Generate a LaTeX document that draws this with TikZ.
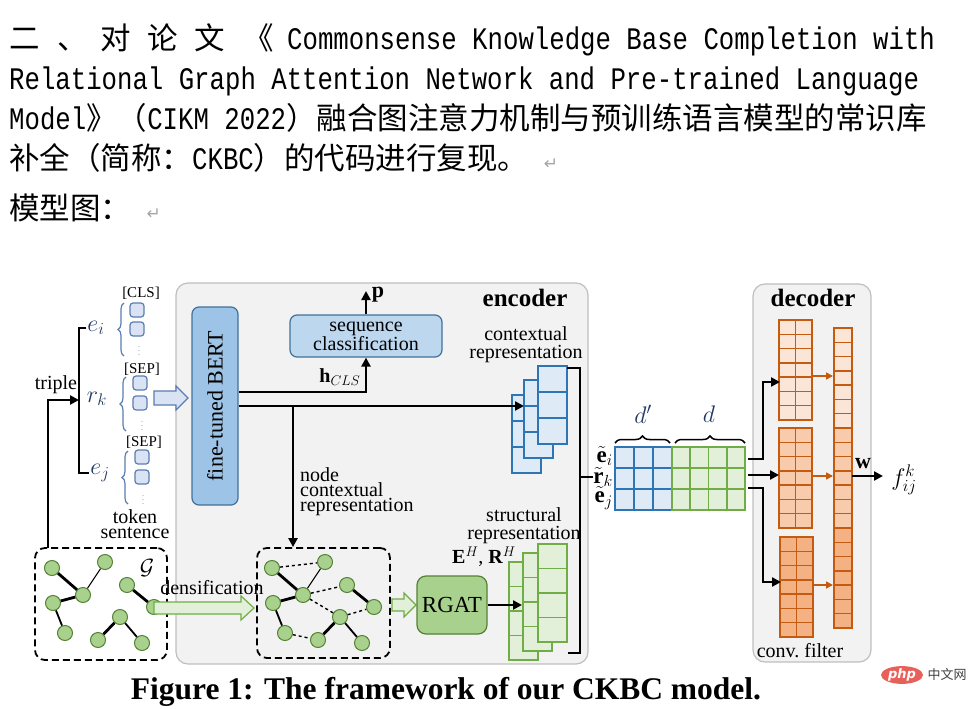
\RequirePackage{fix-cm}
\documentclass[tikz,border=0pt]{standalone}
\usepackage{fontspec}
\setmainfont{Liberation Serif}
\newfontfamily\cjk{Noto Sans CJK SC}
\newfontfamily\mono{Liberation Mono}
\newfontfamily\symb{DejaVu Sans}
\usetikzlibrary{positioning,arrows.meta,shapes.geometric,decorations.pathreplacing}

\definecolor{panelfill}{HTML}{F2F2F2}
\definecolor{panelline}{HTML}{BFBFBF}
\definecolor{bertfill}{HTML}{9DC3E6}
\definecolor{seqfill}{HTML}{BDD7EE}
\definecolor{boxline}{HTML}{41719C}
\definecolor{cellblue}{HTML}{2E75B6}
\definecolor{paleblue}{HTML}{DEEBF7}
\definecolor{tokfill}{HTML}{DAE3F3}
\definecolor{tokline}{HTML}{5B7DB1}
\definecolor{nodegreen}{HTML}{A9D18E}
\definecolor{darkgreen}{HTML}{548235}
\definecolor{cellgreen}{HTML}{70AD47}
\definecolor{palegreen}{HTML}{E2F0D9}
\definecolor{orangeline}{HTML}{C55A11}
\definecolor{orangeA}{HTML}{FBE5D6}
\definecolor{orangeB}{HTML}{F8CBAD}
\definecolor{orangeC}{HTML}{F4B183}
\definecolor{navy}{HTML}{1F3864}
\definecolor{retgrey}{HTML}{A6A6A6}
\definecolor{phpred}{HTML}{E8605A}

\newcommand{\zh}[1]{{\cjk\fontsize{30.5}{30.5}\selectfont #1}}
\newcommand{\lat}[1]{\scalebox{1}[1.22]{#1}}
\newcommand{\retmark}{{\color{retgrey}\symb\fontsize{17}{17}\selectfont ↵}}

\begin{document}
\begin{tikzpicture}[x=1pt,y=-1pt]

\useasboundingbox (0,0) rectangle (980,709);

%%% Heading text

\tikzstyle{heading}=[anchor=base west, inner sep=0, font=\mono\fontsize{25.7}{25.7}\selectfont]

\node (H1) [heading] at (9,49) {\zh{二}};
\node (H2) [heading] at (57,49) {\zh{、}};
\node (H3) [heading] at (100,49) {\zh{对}};
\node (H4) [heading] at (147,49) {\zh{论}};
\node (H5) [heading] at (194,49) {\zh{文}};
\node (H6) [heading] at (243,49) {\zh{《}};
\node (H7) [heading] at (287,49) {\lat{Commonsense Knowledge Base Completion with}};
\node (L2) [heading] at (9,89) {\lat{Relational Graph Attention Network and Pre-trained Language}};
\node (L3) [heading] at (9,129) {\lat{Model}\zh{》（}\lat{CIKM 2022}\zh{）融合图注意力机制与预训练语言模型的常识库}};
\node (L4) [heading] at (9,169) {\zh{补全（简称：}\lat{CKBC}\zh{）的代码进行复现。} \retmark};
\node (L5) [heading] at (9,219) {\zh{模型图：} \retmark};

%%% Styles

\tikzstyle{panel}=[draw=panelline, fill=panelfill, rounded corners=12, line width=1.2]
\tikzstyle{lbl}=[inner sep=1, font=\fontsize{20}{18}\selectfont, align=center]
\tikzstyle{mathlbl}=[inner sep=1, font=\fontsize{24}{24}\selectfont]
\tikzstyle{token}=[draw=tokline, fill=tokfill, rounded corners=3, minimum size=14, inner sep=0, line width=1.2]
\tikzstyle{tokbrace}=[draw=tokline, line width=1.2, decorate, decoration={brace, amplitude=6}]
\tikzstyle{dots}=[text=tokline, inner sep=0, font=\fontsize{8}{8}\selectfont]
\tikzstyle{flow}=[line width=2.6, -{Triangle[length=9pt,width=9pt]}]
\tikzstyle{wire}=[line width=2.4]
\tikzstyle{gnode}=[circle, draw=darkgreen, fill=nodegreen, minimum size=15, inner sep=0, line width=1]
\tikzstyle{bold edge}=[line width=2.8]
\tikzstyle{mid edge}=[line width=1.8]
\tikzstyle{thin edge}=[line width=1]
\tikzstyle{dash edge}=[line width=1.4, dashed]
\tikzstyle{graphbox}=[draw, line width=1.8, rounded corners=10, dash pattern=on 7pt off 4pt]
\tikzstyle{hollow}=[line width=1.2, line join=miter]

%%% Panels

\node (enc) [panel, minimum width=412, minimum height=381] at (382,473.5) {};
\node (dec) [panel, minimum width=118, minimum height=378] at (812,473) {};
\node (encT) [font=\bfseries\fontsize{25}{25}\selectfont] at (525,298) {encoder};
\node (decT) [font=\bfseries\fontsize{25}{25}\selectfont] at (813,298) {decoder};

%%% Triple and token sentences

\node (ei) [mathlbl, text=navy] at (96,328) {$e_i$};
\node (rk) [mathlbl, text=navy] at (97,399) {$r_k$};
\node (ej) [mathlbl, text=navy] at (100,473) {$e_j$};

\node (cls) [lbl, font=\fontsize{15}{15}\selectfont] at (141,293) {[CLS]};
\node (sep1) [lbl, font=\fontsize{15}{15}\selectfont] at (142,369) {[SEP]};
\node (sep2) [lbl, font=\fontsize{15}{15}\selectfont] at (144,442) {[SEP]};

\node (t1) [token] at (137,310) {};
\node (t2) [token] at (137,329) {};
\node (t3) [token] at (140,383) {};
\node (t4) [token] at (140,403) {};
\node (t5) [token] at (142,457) {};
\node (t6) [token] at (142,477) {};

\node (v1) [dots] at (139,348) {$\vdots$};
\node (v2) [dots] at (142,423) {$\vdots$};
\node (v3) [dots] at (143,497) {$\vdots$};

\draw [tokbrace] (124,356) -- (124,303);
\draw [tokbrace] (126,431) -- (126,377);
\draw [tokbrace] (128,504) -- (128,451);

\node (tok) [lbl, font=\fontsize{20}{15}\selectfont] at (135,524) {token\\sentence};

\node (triple) [lbl] at (56,385) {triple};

\coordinate (trip) at (48,548);
\coordinate (fork) at (79,400);
\draw [flow] (trip) |- (fork);
\draw [wire] (ei.west) -| (fork) |- (ej.west);

% Into BERT

\coordinate (inArrow) at (154,398);
\draw [hollow, draw=tokline, fill=tokfill] (inArrow) ++(0,-7) -- ++(22,0) -- ++(0,-5) -- ++(12,12) -- ++(-12,12) -- ++(0,-5) -- ++(-22,0) -- cycle;

\node (bert) [draw=boxline, fill=bertfill, rounded corners=7, line width=1.2, minimum width=46, minimum height=198] at (215,406) {};
\node (bertT) [rotate=90, font=\fontsize{22}{22}\selectfont] at (bert.center) {fine-tuned BERT};

%%% Sequence classification

\node (seq) [draw=boxline, fill=seqfill, rounded corners=7, line width=1.2, minimum width=152, minimum height=42, lbl] at (366,336) {sequence\\classification};

\coordinate (pt) at (366,291);
\draw [flow] (seq.north) -- (seq.north |- pt);
\node (p) [mathlbl, font=\fontsize{22}{22}\selectfont] at (378,295) {$\mathbf{p}$};

\draw [flow] ([yshift=14]bert.east) -| (seq.south);
\node (hcls) [lbl] at (340,377) {$\mathbf{h}_{CLS}$};

%%% Contextual representation

\foreach \cx/\cy in {512/395, 524/380, 538/366}{
  \foreach \r in {0,1,2}
    \draw [draw=cellblue, fill=paleblue, line width=1.3] (\cx,\cy+\r*26) rectangle ++(29,26);
}
\node (ctxL) [lbl] at (526,345) {contextual\\representation};

\coordinate (ctxin) at (524,406);
\draw [flow] (bert.east) -- (ctxin);

\coordinate (br) at (293,406);
\node (nctx) [lbl, anchor=west, align=left, font=\fontsize{20}{15}\selectfont] at (299,492) {node\\contextual\\representation};

%%% Graphs

\node (gbox) [graphbox, minimum width=132, minimum height=112] at (101,604) {};
\node (gbox2) [graphbox, minimum width=133, minimum height=110] at (323.5,603) {};
\node (gsym) [mathlbl, font=\fontsize{22}{22}\selectfont] at (147,568) {$\mathcal{G}$};

\draw [flow] (br) -- (br |- gbox2.north);

\foreach \n/\px/\py in {a/52/568, b/105/562, c/83/595, d/53/603, e/65/633,
                        f/127/585, g/154/607, h/120/617, i/98/640, j/142/643}{
  \node (g\n) [gnode] at (\px,\py) {};
  \node (h\n) [gnode] at (\px+220,\py) {};
}

\draw [bold edge] (ga) -- (gc);
\draw [thin edge] (gb) -- (gc);
\draw [bold edge] (gc) -- (gd);
\draw [mid edge] (gd) -- (ge);
\draw [bold edge] (gf) -- (gg);
\draw [bold edge] (gh) -- (gi);
\draw [mid edge] (gh) -- (gj);

\draw [bold edge] (ha) -- (hc);
\draw [thin edge] (hb) -- (hc);
\draw [bold edge] (hc) -- (hd);
\draw [mid edge] (hd) -- (he);
\draw [bold edge] (hf) -- (hg);
\draw [bold edge] (hh) -- (hi);
\draw [mid edge] (hh) -- (hj);
\draw [dash edge] (ha) -- (hb);
\draw [dash edge] (hc) -- (hf);
\draw [dash edge] (hc) -- (hh);
\draw [dash edge] (hh) -- (hg);
\draw [dash edge] (he) -- (hi);

% Densification arrow

\coordinate (dens) at (154,608);
\draw [hollow, draw=cellgreen, fill=palegreen] (dens) ++(0,-6) -- ++(87,0) -- ++(0,-6) -- ++(13,12) -- ++(-13,12) -- ++(0,-6) -- ++(-87,0) -- cycle;
\node (densT) [lbl] at (212,588) {densification};

\coordinate (toRgat) at (392,605);
\draw [hollow, draw=cellgreen, fill=palegreen] (toRgat) ++(0,-6) -- ++(12,0) -- ++(0,-6) -- ++(12,12) -- ++(-12,12) -- ++(0,-6) -- ++(-12,0) -- cycle;

%%% RGAT and structural representation

\node (rgat) [draw=darkgreen, fill=nodegreen, rounded corners=9, line width=1.2, minimum width=70, minimum height=58, font=\fontsize{23}{23}\selectfont] at (452,605) {RGAT};

\foreach \cx/\cy in {509/562, 523/553, 538/544}{
  \foreach \r in {0,...,3}
    \draw [draw=cellgreen, fill=palegreen, line width=1.3] (\cx,\cy+\r*24.5) rectangle ++(29,24.5);
}
\node (strL) [lbl] at (524,526) {structural\\representation};
\node (ehrh) [lbl] at (484,557) {$\mathbf{E}^H$, $\mathbf{R}^H$};

\coordinate (strin) at (522,605);
\draw [flow] (rgat.east) -- (strin);

% Joining bracket

\coordinate (bt) at (567,368);
\coordinate (bb) at (568,653);
\coordinate (bj) at (580,477);
\draw [wire] (bt) -| (bj) |- (bb);

%%% Concatenated matrix

\foreach \c in {0,1,2}
  \foreach \r in {0,1,2}
    \draw [draw=cellblue, fill=paleblue, line width=1.6] (615+\c*19,447+\r*21) rectangle ++(19,21);
\foreach \c in {0,...,3}
  \foreach \r in {0,1,2}
    \draw [draw=cellgreen, fill=palegreen, line width=1.6] (672+\c*18.25,447+\r*21) rectangle ++(18.25,21);

\node (eit) [mathlbl, anchor=east, inner sep=0, font=\fontsize{23}{23}\selectfont] at (613,456) {$\tilde{\mathbf{e}}_i$};
\node (rkt) [mathlbl, anchor=east, inner sep=0, font=\fontsize{23}{23}\selectfont] at (613,477) {$\tilde{\mathbf{r}}_k$};
\node (ejt) [mathlbl, anchor=east, inner sep=0, font=\fontsize{23}{23}\selectfont] at (613,498) {$\tilde{\mathbf{e}}_j$};
\draw [wire] (bj) -- (rkt.west);

\draw [line width=1.5, decorate, decoration={brace, amplitude=7}] (615,443) -- (670,443);
\draw [line width=1.5, decorate, decoration={brace, amplitude=7}] (675,443) -- (745,443);
\node (dp) [mathlbl, text=navy] at (643,414) {$d'$};
\node (dd) [mathlbl, text=navy] at (709,414) {$d$};

%%% Decoder

\foreach \bx/\by/\fc in {779/320/orangeA, 779/428/orangeB, 780/537/orangeC}{
  \foreach \c in {0,1}
    \foreach \r in {0,...,6}
      \draw [draw=orangeline, fill=\fc, line width=1.4] (\bx+\c*16.5,\by+\r*14.29) rectangle ++(16.5,14.29);
}
\foreach \s/\fc in {0/orangeA, 1/orangeB, 2/orangeC}{
  \foreach \r in {0,...,6}
    \draw [draw=orangeline, fill=\fc, line width=1.4] (834,328+\s*100+\r*14.29) rectangle ++(18,14.29);
}

\coordinate (m1) at (748,459);
\coordinate (m2) at (748,475);
\coordinate (m3) at (748,488);
\coordinate (blk1) at (780,382);
\coordinate (blk2) at (779,475);
\coordinate (blk3) at (781,582);
\draw [flow] (m1) -- ++(15,0) |- (blk1);
\draw [flow] (m2) -- (blk2);
\draw [flow] (m3) -- ++(15,0) |- (blk3);

\coordinate (o1) at (812,376);
\coordinate (o2) at (812,476);
\coordinate (o3) at (813,585);
\coordinate (w1) at (833,376);
\coordinate (w2) at (833,476);
\coordinate (w3) at (833,585);
\draw [orangeline, line width=1.6, -{Triangle[length=7pt,width=7pt]}] (o1) -- (w1);
\draw [orangeline, line width=1.6, -{Triangle[length=7pt,width=7pt]}] (o2) -- (w2);
\draw [orangeline, line width=1.6, -{Triangle[length=7pt,width=7pt]}] (o3) -- (w3);

\coordinate (wout) at (852,476);
\coordinate (fout) at (883,476);
\draw [flow] (wout) -- (fout);
\node (w) [mathlbl, font=\fontsize{22}{22}\selectfont] at (863,464) {$\mathbf{w}$};
\node (fk) [mathlbl] at (904,480) {$f_{ij}^{k}$};

\node (conv) [lbl] at (800,651) {conv.\ filter};

%%% Caption

\node (cap) [font=\bfseries\fontsize{31.5}{31.5}\selectfont] at (446,692) {Figure 1: The framework of our CKBC model.};

% Watermark

\node (phplogo) [ellipse, fill=phpred, minimum width=42, minimum height=16, inner sep=0, text=white, font=\symb\bfseries\itshape\fontsize{13}{13}\selectfont] at (902,675) {php};
\node (phpcn) [text=darkgray, font=\cjk\fontsize{13}{13}\selectfont] at (947,675) {中文网};

\end{tikzpicture}
\end{document}
